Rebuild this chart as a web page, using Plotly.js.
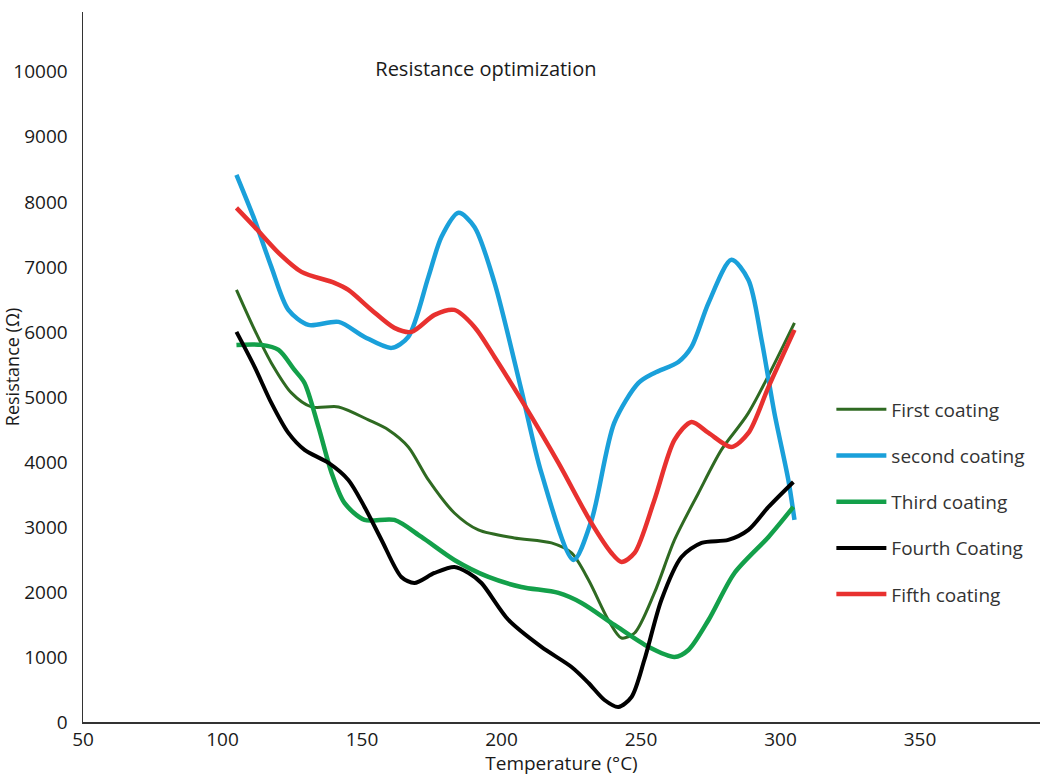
<!DOCTYPE html>
<html>
<head>
<meta charset="utf-8">
<script src="https://cdn.plot.ly/plotly-3.0.1.min.js"></script>
<style>html,body{margin:0;padding:0;background:#fff;}#chart{width:1040px;height:776px;}</style>
</head>
<body>
<div id="chart"></div>
<script>
// Temperature (°C) and Resistance (Ω) values
const seriesNames = ["First coating", "second coating", "Third coating", "Fourth Coating", "Fifth coating"];

const xFirst = [105, 111.5, 117.5, 124.7, 131.9, 141.6, 152.3, 159.5, 166.6, 173.8, 183.1, 191.7, 204.6, 217.9, 225.1, 231.2, 238.3, 243.0, 247.7, 254.8, 262.0, 270.6, 278.8, 288.5, 305];
const yFirst = [6646, 6031, 5523, 5062, 4846, 4846, 4646, 4492, 4231, 3723, 3215, 2954, 2831, 2754, 2600, 2185, 1569, 1292, 1369, 1985, 2800, 3523, 4185, 4754, 6138];

const xSecond = [105, 111.5, 117.5, 123.6, 130.8, 141.6, 150.9, 160.6, 166.6, 173.8, 178.5, 184.6, 190.3, 197.5, 207.1, 214.3, 225.8, 232.3, 240.4, 249.1, 254.8, 263.4, 268.1, 274.2, 282.4, 288.5, 293.2, 297.8, 302.8, 305];
const ySecond = [8415, 7723, 7000, 6338, 6108, 6154, 5923, 5754, 5923, 6846, 7462, 7831, 7615, 6754, 5108, 3831, 2492, 3108, 4600, 5215, 5369, 5538, 5769, 6446, 7108, 6800, 5877, 4754, 3723, 3108];

const xThird = [105, 114, 120.1, 125.8, 129.4, 134.4, 139.1, 143.7, 150.9, 161.6, 171.3, 183.1, 195.3, 207.1, 220.4, 228.7, 240.5, 252.7, 262.0, 267.0, 274.2, 283.5, 295.7, 304.6];
const yThird = [5800, 5800, 5723, 5415, 5215, 4538, 3831, 3369, 3108, 3108, 2846, 2492, 2231, 2077, 1985, 1831, 1492, 1154, 1000, 1108, 1569, 2292, 2846, 3308];

const xFourth = [105, 111.5, 117.5, 123.6, 129.4, 138.0, 145.1, 150.9, 157.0, 164.1, 168.8, 176.0, 183.1, 188.2, 192.8, 202.5, 214.3, 225.1, 231.2, 236.9, 241.9, 246.6, 251.2, 257.3, 264.5, 271.7, 281.3, 288.5, 295.7, 304.6];
const yFourth = [6000, 5462, 4908, 4446, 4185, 3985, 3723, 3308, 2800, 2231, 2138, 2292, 2385, 2292, 2138, 1569, 1154, 846, 600, 338, 231, 385, 954, 1877, 2538, 2754, 2800, 2954, 3308, 3692];

const xFifth = [105, 111.5, 120.1, 128.3, 140.1, 145.1, 153.4, 161.6, 167.7, 176.0, 183.1, 190.3, 197.5, 207.1, 220.4, 232.2, 239.4, 243.0, 247.7, 254.8, 262.0, 268.1, 274.2, 282.4, 288.5, 295.7, 305];
const yFifth = [7908, 7615, 7215, 6923, 6754, 6646, 6338, 6062, 6000, 6262, 6338, 6077, 5615, 4954, 3985, 3062, 2600, 2462, 2600, 3415, 4338, 4615, 4446, 4231, 4446, 5154, 6031];

const xTicks = [50, 100, 150, 200, 250, 300, 350];
const yTicks = [0, 1000, 2000, 3000, 4000, 5000, 6000, 7000, 8000, 9000, 10000];

const xs = [xFirst, xSecond, xThird, xFourth, xFifth];
const ys = [yFirst, ySecond, yThird, yFourth, yFifth];
const colors = ["#2f6a22", "#1aa0da", "#13a04a", "#000000", "#e8312f"];
const widths = [3, 4.5, 4.5, 4, 4.5];

const traces = seriesNames.map((n, i) => ({
  type: "scatter",
  mode: "lines",
  name: n,
  x: xs[i],
  y: ys[i],
  legendgroup: "g" + i,
  line: {color: colors[i], width: widths[i], shape: "spline", smoothing: 0.8},
  hoverinfo: "x+y+name"
}));

const font = "Open Sans, Noto Sans, sans-serif";

const layout = {
  width: 1040,
  height: 776,
  paper_bgcolor: "#ffffff",
  plot_bgcolor: "#ffffff",
  margin: {l: 83, r: 0, t: 12, b: 54},
  font: {family: font, size: 18, color: "#1a1a1a"},
  title: {
    text: "Resistance optimization",
    font: {family: font, size: 20, color: "#1a1a1a"},
    xref: "paper", x: 0.421, xanchor: "center",
    yref: "container", y: 0.911, yanchor: "middle"
  },
  xaxis: {
    range: [50, 393],
    tickvals: xTicks,
    ticktext: xTicks.map(String),
    ticks: "",
    showgrid: false,
    zeroline: false,
    showline: true,
    linecolor: "#333333",
    linewidth: 1.5,
    tickfont: {family: font, size: 19, color: "#1a1a1a"},
    title: {text: "Temperature (°C)", font: {family: font, size: 19, color: "#1a1a1a"}, standoff: 5}
  },
  yaxis: {
    range: [0, 10920],
    tickvals: yTicks,
    ticktext: yTicks.map(String),
    ticks: "",
    ticklabelstandoff: 10,
    showgrid: false,
    zeroline: false,
    showline: true,
    linecolor: "#333333",
    linewidth: 1.5,
    tickfont: {family: font, size: 19, color: "#1a1a1a"},
    title: {text: "Resistance (Ω)", font: {family: font, size: 18, color: "#1a1a1a"}, standoff: 2}
  },
  showlegend: true,
  legend: {
    xref: "paper", yref: "paper",
    x: 0.782, xanchor: "left",
    y: 0.467, yanchor: "top",
    bgcolor: "rgba(0,0,0,0)",
    font: {family: font, size: 19, color: "#333333"},
    tracegroupgap: 18.5,
    itemwidth: 50
  }
};

Plotly.newPlot("chart", traces, layout, {displayModeBar: false, staticPlot: true});
</script>
</body>
</html>
